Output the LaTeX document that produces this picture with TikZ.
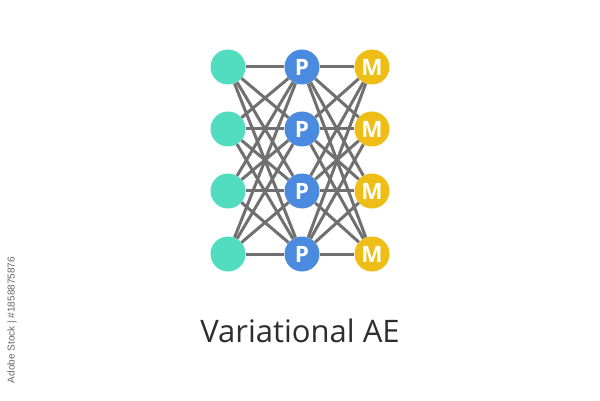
\documentclass[tikz,border=0pt]{standalone}
\usepackage{fontspec}
\setmainfont{Open Sans}
\newfontfamily\wmfont{Liberation Sans}
\definecolor{tealc}{HTML}{52DDC1}
\definecolor{bluec}{HTML}{4A8BE0}
\definecolor{yellowc}{HTML}{EEBE17}
\definecolor{edgec}{HTML}{707070}
\definecolor{textc}{HTML}{2E2E2E}
\begin{document}
\begin{tikzpicture}[x=1pt,y=-1pt,
  neuron/.style={circle,minimum size=35pt,inner sep=0pt,text=white,font=\bfseries\fontsize{22.5}{22.5}\selectfont},
  inp/.style={neuron,fill=tealc},
  hid/.style={neuron,fill=bluec},
  outp/.style={neuron,fill=yellowc},
  conn/.style={draw=edgec,line width=3pt}]
\useasboundingbox[fill=white] (0,0) rectangle (600,401);
\foreach \i/\y in {1/67,2/129,3/191,4/254}{
  \node[inp] (a\i) at (228,\y) {};
  \node[hid] (b\i) at (302,\y) {P};
  \node[outp] (c\i) at (372,\y) {M};
}
\foreach \i in {1,...,4}{
  \foreach \j in {1,...,4}{
    \draw[conn] (a\i) -- (b\j);
    \draw[conn] (b\i) -- (c\j);
  }
}
\node[text=textc,font=\fontsize{31}{31}\selectfont] (title) at (300,331) {Variational AE};
\node[text=black!60,font=\wmfont\fontsize{10}{10}\selectfont,rotate=90] (wm) at (12,320) {Adobe Stock | \#1858875876};
\end{tikzpicture}
\end{document}
